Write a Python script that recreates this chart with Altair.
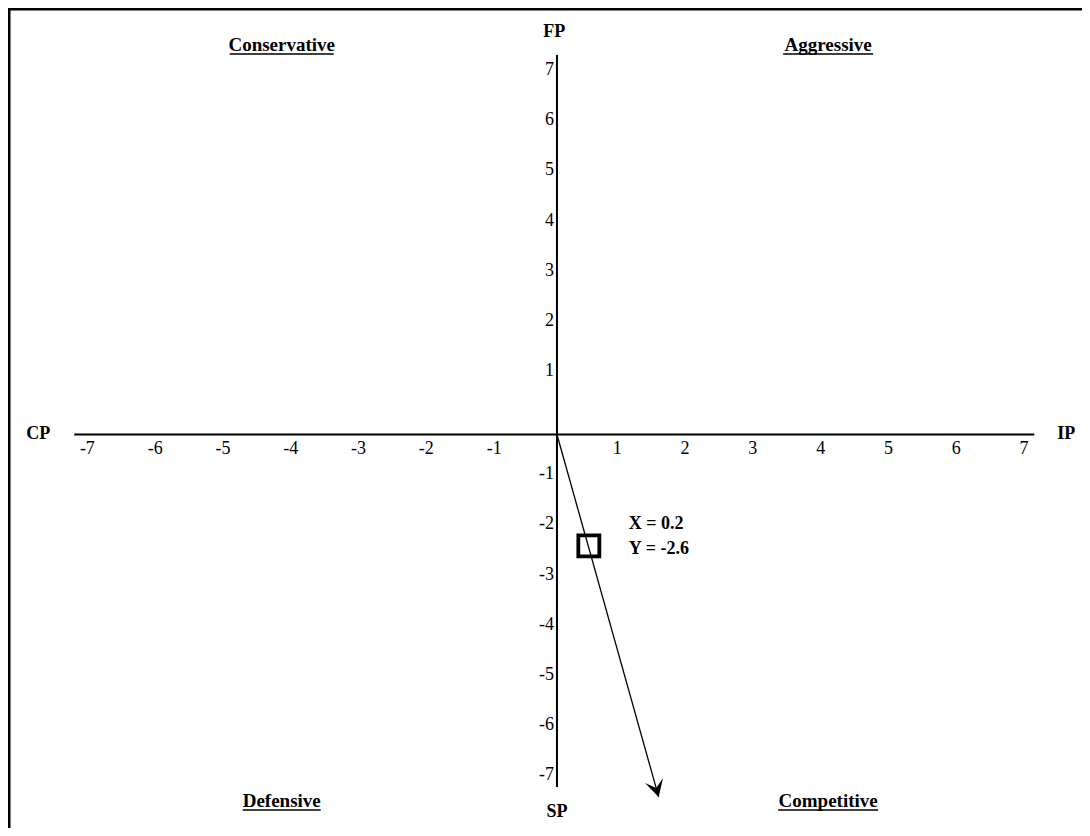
import math
import altair as alt
import pandas as pd

# ---------------- data ----------------
x_ticks_neg = [-7, -6, -5, -4, -3, -2, -1]
x_ticks_pos = [1, 2, 3, 4, 5, 6, 7]
y_ticks_pos = [1, 2, 3, 4, 5, 6, 7]
y_ticks_neg = [-1, -2, -3, -4, -5, -6, -7]

axis_names = ["CP", "IP", "FP", "SP"]
axis_name_x = [-7.65, 7.51, -0.04, 0.0]
axis_name_y = [0.0, 0.0, 8.02, -7.53]

quad_names = ["Conservative", "Aggressive", "Defensive", "Competitive"]
quad_x = [-4.06, 4.0, -4.06, 4.0]
quad_y = [7.76, 7.76, -7.30, -7.30]
quad_halfwidth_px = [52, 45, 39, 50]

point_x = [0.47]
point_y = [-2.22]
point_text = ["X = 0.2", "Y = -2.6"]

arrow_tip_x = [1.50]
arrow_tip_y = [-7.22]

h_axis = [-7.12, 7.04]   # horizontal axis extent
v_axis = [7.56, -7.02]   # vertical axis extent

# ---------------- layout ----------------
W, H = 1074, 820
XDOM = [-8.097, 7.744]
YDOM = [-7.839, 8.496]
UX = W / (XDOM[1] - XDOM[0])
UY = H / (YDOM[1] - YDOM[0])

xs = alt.Scale(domain=XDOM, nice=False, zero=False)
ys = alt.Scale(domain=YDOM, nice=False, zero=False)
SERIF = "Liberation Serif"

def X(f="x"):
    return alt.X(f"{f}:Q", scale=xs, axis=None)

def Y(f="y"):
    return alt.Y(f"{f}:Q", scale=ys, axis=None)

# frame (top and left border lines)
frame_top = alt.Chart(pd.DataFrame({"a": [0]})).mark_rule(color="black", strokeWidth=3).encode(
    x=alt.value(0), x2=alt.value(W), y=alt.value(1))
frame_left = alt.Chart(pd.DataFrame({"a": [0]})).mark_rule(color="black", strokeWidth=3).encode(
    x=alt.value(1), y=alt.value(0), y2=alt.value(H))

# axes
haxis = alt.Chart(pd.DataFrame({"x": [h_axis[0]], "x2": [h_axis[1]], "y": [0.0]})).mark_rule(
    color="black", strokeWidth=2).encode(x=X(), x2="x2:Q", y=Y())
vaxis = alt.Chart(pd.DataFrame({"x": [0.0], "y": [v_axis[0]], "y2": [v_axis[1]]})).mark_rule(
    color="black", strokeWidth=2).encode(x=X(), y=Y(), y2="y2:Q")

# tick labels
def tick_df(vals, horiz):
    if horiz:
        return pd.DataFrame({"x": vals, "y": [0.0] * len(vals), "t": [str(v) for v in vals]})
    return pd.DataFrame({"x": [0.0] * len(vals), "y": vals, "t": [str(v) for v in vals]})

tick_style = dict(font=SERIF, fontSize=18, color="black", baseline="middle")
xl_neg = alt.Chart(tick_df(x_ticks_neg, True)).mark_text(align="center", dx=5, dy=15, **tick_style).encode(
    x=X(), y=Y(), text="t:N")
xl_pos = alt.Chart(tick_df(x_ticks_pos, True)).mark_text(align="center", dx=-7.5, dy=15, **tick_style).encode(
    x=X(), y=Y(), text="t:N")
yl_pos = alt.Chart(tick_df(y_ticks_pos, False)).mark_text(align="right", dx=-3, dy=-13, **tick_style).encode(
    x=X(), y=Y(), text="t:N")
yl_neg = alt.Chart(tick_df(y_ticks_neg, False)).mark_text(align="right", dx=-3, dy=-10.5, **tick_style).encode(
    x=X(), y=Y(), text="t:N")

# axis names
names = alt.Chart(pd.DataFrame({"x": axis_name_x, "y": axis_name_y, "t": axis_names})).mark_text(
    font=SERIF, fontSize=18, fontWeight="bold", color="black", align="center", baseline="middle").encode(
    x=X(), y=Y(), text="t:N")

# quadrant labels with underline
qdf = pd.DataFrame({"x": quad_x, "y": quad_y, "t": quad_names,
                    "hw": [h / UX for h in quad_halfwidth_px]})
qdf["x1"] = qdf["x"] - qdf["hw"]
qdf["x2"] = qdf["x"] + qdf["hw"]
quad = alt.Chart(qdf).mark_text(font=SERIF, fontSize=19, fontWeight="bold", color="black",
                                align="center", baseline="middle").encode(x=X(), y=Y(), text="t:N")
underline = alt.Chart(qdf).mark_rule(color="black", strokeWidth=1.6, yOffset=9).encode(
    x=X("x1"), x2="x2:Q", y=Y())

# arrow
adf = pd.DataFrame({"x": [0.0], "y": [0.0], "x2": arrow_tip_x, "y2": arrow_tip_y})
arrow_line = alt.Chart(adf).mark_rule(color="black", strokeWidth=1.3).encode(
    x=X(), y=Y(), x2="x2:Q", y2="y2:Q")
ang = 360 - math.degrees(math.atan2(arrow_tip_x[0] * UX, -arrow_tip_y[0] * UY))
head = alt.Chart(pd.DataFrame({"x": arrow_tip_x, "y": arrow_tip_y})).mark_point(
    shape="M0,0 L-0.55,-1 L0,-0.55 L0.55,-1 Z", filled=True, color="black", opacity=1,
    size=1156, angle=ang, strokeWidth=0).encode(x=X(), y=Y())

# point box + labels
pdf = pd.DataFrame({"x": point_x, "y": point_y})
box = alt.Chart(pdf).mark_point(shape="square", filled=False, color="black", opacity=1,
                                size=441, strokeWidth=3.8).encode(x=X(), y=Y())
ptxt_style = dict(font=SERIF, fontSize=18, fontWeight="bold", color="black", align="left", baseline="middle")
pt1 = alt.Chart(pdf.assign(t=point_text[0])).mark_text(dx=40, dy=-22, **ptxt_style).encode(
    x=X(), y=Y(), text="t:N")
pt2 = alt.Chart(pdf.assign(t=point_text[1])).mark_text(dx=40, dy=3, **ptxt_style).encode(
    x=X(), y=Y(), text="t:N")

chart = alt.layer(
    frame_top, frame_left, haxis, vaxis, xl_neg, xl_pos, yl_pos, yl_neg,
    names, quad, underline, arrow_line, head, box, pt1, pt2
).properties(
    width=W, height=H, autosize=alt.AutoSizeParams(type="none"), padding=0
).configure_view(stroke=None).configure(background="white")

chart.save("out.html", embed_options={"renderer": "svg", "actions": False})
